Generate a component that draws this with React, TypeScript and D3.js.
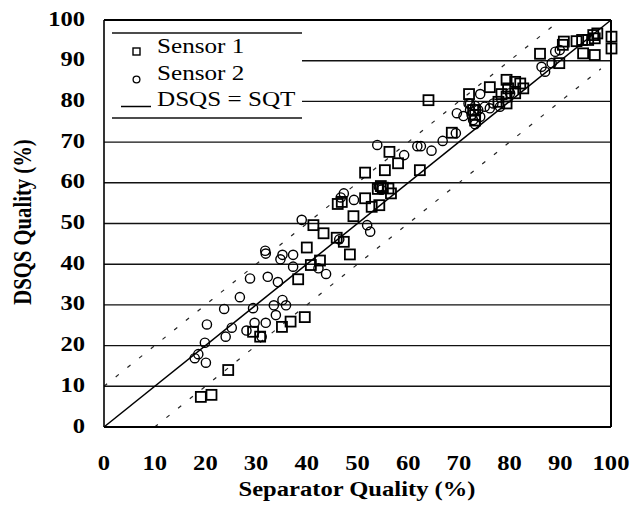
import React from "react";
import * as d3 from "d3";

const xTicks = [0, 10, 20, 30, 40, 50, 60, 70, 80, 90, 100];
const yTicks = [0, 10, 20, 30, 40, 50, 60, 70, 80, 90, 100];

const sensor1: [number, number][] = [
  [19.1, 7.4], [21.2, 7.9], [24.5, 14.0], [29.4, 23.4], [30.8, 22.2], [35.1, 24.6], [36.8, 25.9], [39.6, 27.0],
  [38.3, 36.3], [40.8, 39.8], [42.6, 40.9], [40.0, 44.1], [48.5, 42.4], [45.9, 46.5], [47.3, 45.5], [43.3, 47.6],
  [41.3, 49.6], [49.2, 51.8], [46.1, 54.8], [46.9, 55.3], [51.5, 56.2], [52.8, 54.1], [54.3, 54.5], [51.5, 62.5],
  [55.4, 63.1], [58.0, 64.8], [56.3, 67.6], [62.3, 63.1], [54.0, 58.5], [54.6, 59.2], [55.0, 58.8], [56.1, 58.6],
  [56.6, 57.4], [64.0, 80.3], [68.6, 72.3], [72.0, 81.8], [72.8, 77.9], [73.2, 76.7], [73.2, 75.3], [76.1, 83.5],
  [79.4, 85.3], [81.1, 84.8], [82.1, 84.4], [79.7, 83.2], [82.7, 83.2], [81.1, 82.0], [78.4, 81.8], [79.4, 81.2],
  [77.8, 79.9], [79.4, 79.5], [86.0, 91.7], [89.8, 89.4], [90.7, 94.7], [90.5, 93.9], [93.2, 94.8], [94.3, 95.1],
  [95.5, 95.1], [96.5, 96.3], [96.8, 95.5], [97.3, 96.7], [100.1, 95.9], [100.1, 93.0], [94.5, 91.8], [96.8, 91.4],
];

const sensor2: [number, number][] = [
  [17.9, 16.9], [18.6, 17.9], [20.1, 15.8], [19.9, 20.7], [20.3, 25.2], [24.0, 22.2], [25.2, 24.4], [23.7, 29.0],
  [26.8, 31.9], [28.1, 23.7], [29.7, 25.6], [31.9, 25.6], [31.1, 22.2], [29.4, 29.2], [33.5, 29.9], [35.2, 31.2],
  [35.9, 29.9], [33.9, 27.5], [28.8, 36.5], [32.3, 36.9], [34.3, 35.6], [31.8, 43.3], [31.9, 42.6], [35.2, 42.3],
  [37.3, 42.3], [34.8, 41.2], [37.3, 39.4], [42.3, 39.0], [43.8, 37.6], [39.0, 50.9], [46.4, 46.1], [46.7, 56.4],
  [47.3, 57.4], [49.3, 55.8], [51.9, 49.6], [52.5, 48.0], [53.9, 69.3], [54.2, 59.0], [54.7, 58.3], [59.2, 66.8],
  [61.8, 69.0], [62.5, 69.0], [64.6, 67.9], [66.8, 70.3], [69.4, 72.2], [69.6, 77.1], [70.9, 76.4], [72.2, 79.4],
  [74.2, 81.8], [71.9, 79.5], [73.2, 78.9], [72.2, 77.9], [73.8, 77.9], [72.5, 76.7], [75.1, 78.7], [76.1, 78.3],
  [74.2, 76.2], [72.8, 75.4], [73.2, 74.4], [76.8, 79.5], [78.1, 78.7], [80.1, 82.0], [86.3, 88.5], [87.0, 87.3],
  [88.3, 89.4], [89.0, 92.2], [89.9, 92.6],
];

const legendLabels = ["Sensor 1", "Sensor 2", "DSQS = SQT"];
const xTitle = "Separator Quality (%)";
const yTitle = "DSQS Quality (%)";

const W = 640;
const H = 506;
const L = 104, R = 611, T = 20, B = 427;
const legendRight = 302;
const SX = 1.17;
const FONT = "Liberation Serif";

function T2(props: { x: number; y: number; size: number; bold?: boolean; anchor?: string; children: React.ReactNode }) {
  return (
    <text
      transform={`translate(${props.x},${props.y}) scale(${SX},1)`}
      textAnchor={props.anchor || "start"}
      fontFamily={FONT}
      fontWeight={props.bold ? "bold" : "normal"}
      fontSize={props.size}
      fill="#000"
    >
      {props.children}
    </text>
  );
}

export default function App() {
  const x = d3.scaleLinear().domain([0, 100]).range([L, R]);
  const y = d3.scaleLinear().domain([0, 100]).range([B, T]);
  const line = d3.line<[number, number]>().x((d) => x(d[0])).y((d) => y(d[1]));

  return (
    <svg width={W} height={H} style={{ position: "absolute", left: 0, top: 0, background: "#fff" }}>
      <rect x={0} y={0} width={W} height={H} fill="#fff" />
      {/* gridlines */}
      {yTicks.filter((t) => t > 0 && t < 100).map((t) => (
        <line key={t} x1={t >= 80 ? legendRight : L} x2={R} y1={y(t)} y2={y(t)} stroke="#111" strokeWidth={1.4} />
      ))}
      {/* dashed envelope */}
      <path d={line([[0, 10], [90, 100]]) || ""} stroke="#222" strokeWidth={1.2} fill="none" strokeDasharray="4 11" />
      <path d={line([[10, 0], [98, 88]]) || ""} stroke="#222" strokeWidth={1.2} fill="none" strokeDasharray="4 11" />
      {/* 1:1 line */}
      <path d={line([[0, 0], [100, 100]]) || ""} stroke="#000" strokeWidth={1.5} fill="none" />
      {/* frame */}
      <line x1={L} x2={L} y1={T} y2={B} stroke="#000" strokeWidth={1.6} />
      <line x1={L} x2={R} y1={T} y2={T} stroke="#000" strokeWidth={1.8} />
      <line x1={R} x2={R} y1={T} y2={B} stroke="#000" strokeWidth={2} />
      <line x1={L} x2={R} y1={B} y2={B} stroke="#000" strokeWidth={2} />
      {/* data */}
      {sensor2.map((d, i) => (
        <circle key={"c" + i} cx={x(d[0])} cy={y(d[1])} r={4.6} fill="none" stroke="#000" strokeWidth={1.4} />
      ))}
      {sensor1.map((d, i) => (
        <rect key={"s" + i} x={x(d[0]) - 5} y={y(d[1]) - 5} width={10} height={10} fill="none" stroke="#000" strokeWidth={1.8} />
      ))}
      {/* legend */}
      <g>
        <line x1={112} x2={legendRight} y1={33} y2={33} stroke="#111" strokeWidth={1.3} />
        <line x1={112} x2={legendRight} y1={118} y2={118} stroke="#111" strokeWidth={1.3} />
        <rect x={133} y={48} width={7} height={7} fill="none" stroke="#000" strokeWidth={1.4} />
        <circle cx={136.5} cy={79.5} r={3.4} fill="none" stroke="#000" strokeWidth={1.3} />
        <line x1={121} x2={151} y1={106.5} y2={106.5} stroke="#000" strokeWidth={1.5} />
        {legendLabels.map((lab, i) => (
          <T2 key={lab} x={157} y={53 + i * 26.5} size={21.5}>{lab}</T2>
        ))}
      </g>
      {/* tick labels */}
      {yTicks.map((t) => (
        <T2 key={"y" + t} x={85} y={y(t) + 5.5} size={21} bold anchor="end">{t}</T2>
      ))}
      {xTicks.map((t) => (
        <T2 key={"x" + t} x={x(t)} y={470} size={21} bold anchor="middle">{t}</T2>
      ))}
      <T2 x={357} y={496} size={21} bold anchor="middle">{xTitle}</T2>
      <text
        transform={`translate(31,222) scale(${SX},1) rotate(-90)`}
        textAnchor="middle"
        fontFamily={FONT}
        fontWeight="bold"
        fontSize={20.7}
        fill="#000"
      >
        {yTitle}
      </text>
    </svg>
  );
}
